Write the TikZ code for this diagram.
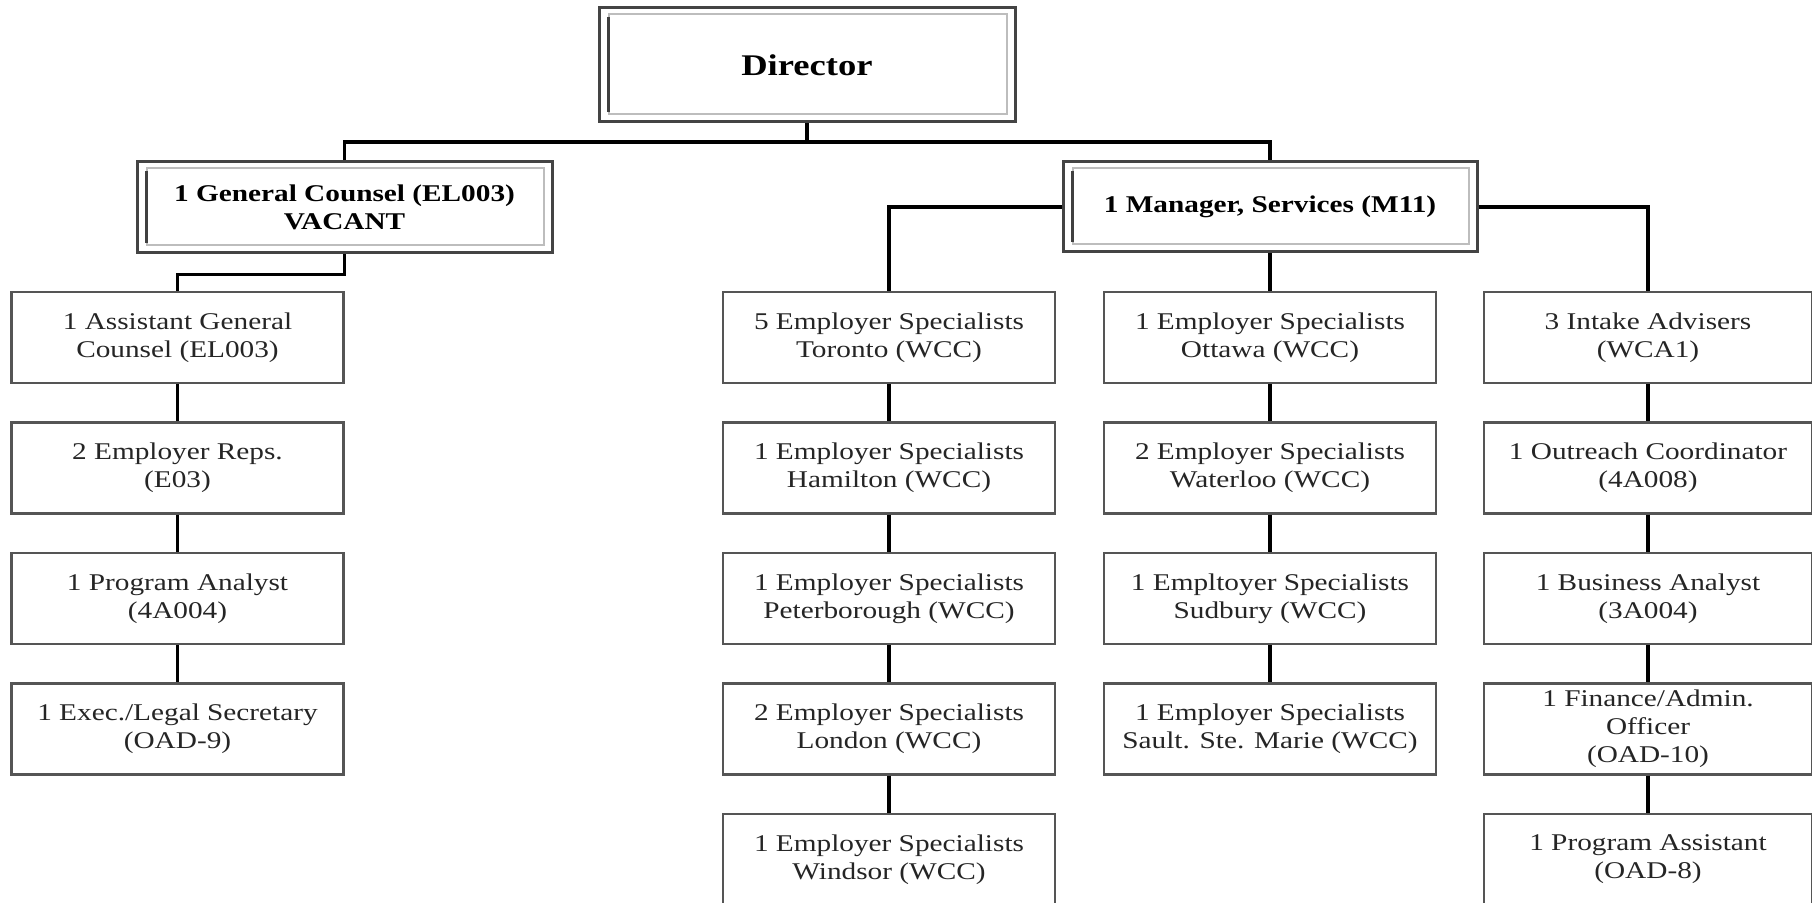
\documentclass[tikz,border=0pt]{standalone}
\usepackage{fontspec}
\setmainfont{Liberation Serif}[FakeStretch=1.22]
\usetikzlibrary{calc}
\definecolor{boxline}{HTML}{555555}
\definecolor{headline}{HTML}{444444}
\definecolor{txt}{HTML}{252525}
\definecolor{innerlight}{HTML}{BDBDBD}
\newcommand\innerframe[1]{%
  \draw[innerlight, line width=1pt] ($(#1.north west)+(11,8)$) rectangle ($(#1.south east)+(-10,-9)$);
  \draw[black!75, line width=1.8pt] ($(#1.north west)+(11,11)$) -- ($(#1.south west)+(11,-11)$);
}
\begin{document}
\begin{tikzpicture}[x=0.5pt,y=-0.5pt,
  unitbox/.style={draw=boxline, line width=1.1pt, fill=white, minimum width=166pt,
    minimum height=45.5pt, inner sep=0pt, align=center,
    font=\fontsize{12}{14}\selectfont, text=txt},
  headbox/.style={draw=headline, line width=1.5pt, fill=white, inner sep=0pt,
    align=center, font=\bfseries\fontsize{12}{14}\selectfont, text=black},
  link/.style={draw=black, line width=1.6pt}]
\useasboundingbox (0,0) rectangle (1812,903);

% heads
\node[headbox, minimum width=208pt, minimum height=57pt,
  font=\bfseries\fontsize{15}{17}\selectfont] (dir) at (807,65) {\raisebox{-2.5pt}{Director}};
\node[headbox, minimum width=207.5pt, minimum height=45.5pt] (gc) at (344.5,207.5)
  {1 General Counsel (EL003)\\VACANT};
\node[headbox, minimum width=207pt, minimum height=45pt] (mgr) at (1270,207)
  {1 Manager, Services (M11)};
\innerframe{dir}
\innerframe{gc}
\innerframe{mgr}

% left column
\node[unitbox] (a1) at (177.5,337.5) {1 Assistant General\\Counsel (EL003)};
\node[unitbox] (a2) at (177.5,468) {2 Employer Reps.\\(E03)};
\node[unitbox] (a3) at (177.5,598.5) {1 Program Analyst\\(4A004)};
\node[unitbox] (a4) at (177.5,729) {1 Exec./Legal Secretary\\(OAD-9)};

% middle-left column
\node[unitbox] (b1) at (889,337.5) {5 Employer Specialists\\Toronto (WCC)};
\node[unitbox] (b2) at (889,468) {1 Employer Specialists\\Hamilton (WCC)};
\node[unitbox] (b3) at (889,598.5) {1 Employer Specialists\\Peterborough (WCC)};
\node[unitbox] (b4) at (889,729) {2 Employer Specialists\\London (WCC)};
\node[unitbox] (b5) at (889,859.5) {1 Employer Specialists\\Windsor (WCC)};

% middle-right column
\node[unitbox] (c1) at (1270,337.5) {1 Employer Specialists\\Ottawa (WCC)};
\node[unitbox] (c2) at (1270,468) {2 Employer Specialists\\Waterloo (WCC)};
\node[unitbox] (c3) at (1270,598.5) {1 Empltoyer Specialists\\Sudbury (WCC)};
\node[unitbox] (c4) at (1270,729) {1 Employer Specialists\\Sault. Ste. Marie (WCC)};

% right column
\node[unitbox, minimum width=164pt] (d1) at (1648,337.5) {3 Intake Advisers\\(WCA1)};
\node[unitbox, minimum width=164pt] (d2) at (1648,468) {1 Outreach Coordinator\\(4A008)};
\node[unitbox, minimum width=164pt] (d3) at (1648,598.5) {1 Business Analyst\\(3A004)};
\node[unitbox, minimum width=164pt] (d4) at (1648,729) {1 Finance/Admin.\\Officer\\(OAD-10)};
\node[unitbox, minimum width=164pt] (d5) at (1648,859.5) {1 Program Assistant\\(OAD-8)};

% connectors
\coordinate (bus) at (807,142);
\draw[link] (dir.south) -- (bus) -| (gc.north);
\draw[link] (bus) -| (mgr.north);
\draw[link] (gc.south) -- ++(0,20) -| (a1.north);
\draw[link] (mgr.west) -| (b1.north);
\draw[link] (mgr.east) -| (d1.north);
\draw[link] (mgr.south) -- (c1.north);
\foreach \col/\n in {a/3,b/4,c/3,d/4}{
  \foreach \i [evaluate=\i as \j using int(\i+1)] in {1,...,\n}{
    \draw[link] (\col\i.south) -- (\col\j.north);
  }
}
\end{tikzpicture}
\end{document}
